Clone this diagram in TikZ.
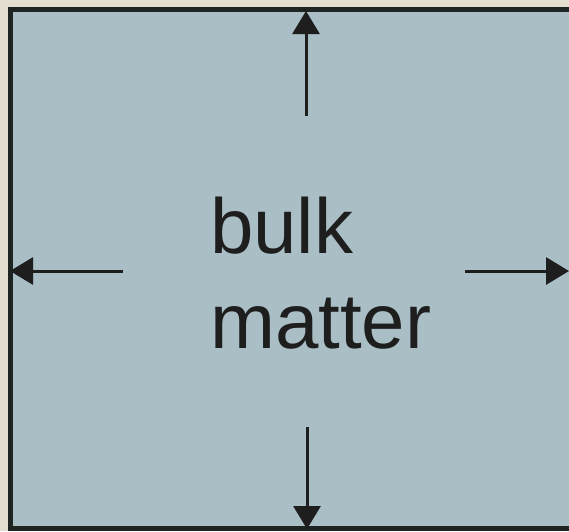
\documentclass[tikz,border=0pt]{standalone}
\usepackage{fontspec}
\setmainfont{Liberation Sans}
\usetikzlibrary{arrows.meta,positioning}
\definecolor{paperbg}{HTML}{E4DED0}
\definecolor{bulkfill}{HTML}{A9BEC5}
\definecolor{bulkline}{HTML}{1E2422}
\definecolor{bulkink}{HTML}{1E1E1E}
\tikzset{
  matterbox/.style={draw=bulkline, fill=bulkfill, line width=5pt},
  pusharrow/.style={-{Triangle[length=23pt,width=27pt]}, line width=3pt, draw=bulkink},
  bulklabel/.style={align=left, inner sep=0pt, text=bulkink,
    font=\fontsize{78}{95}\selectfont}
}
\begin{document}
\begin{tikzpicture}[x=1pt, y=-1pt]
  \useasboundingbox (0,0) rectangle (569,531);
  \clip (0,0) rectangle (569,531);
  \fill[paperbg] (0,0) rectangle (569,531);
  % the slab
  \draw[matterbox] (10.5,9) rectangle (590,528.5);
  \node[bulklabel, anchor=west] (label) at (210,273) {bulk\\matter};
  % tails and tips
  \coordinate (uptail) at (306,116);
  \coordinate (uptip) at (306,11);
  \coordinate (downtail) at (307,427);
  \coordinate (downtip) at (307,529);
  \coordinate (lefttail) at (123,271);
  \coordinate (lefttip) at (10,271);
  \coordinate (righttail) at (465,271);
  \coordinate (righttip) at (569,271);
  \draw[pusharrow] (uptail) -- (uptip);
  \draw[pusharrow] (downtail) -- (downtip);
  \draw[pusharrow] (lefttail) -- (lefttip);
  \draw[pusharrow] (righttail) -- (righttip);
\end{tikzpicture}
\end{document}
